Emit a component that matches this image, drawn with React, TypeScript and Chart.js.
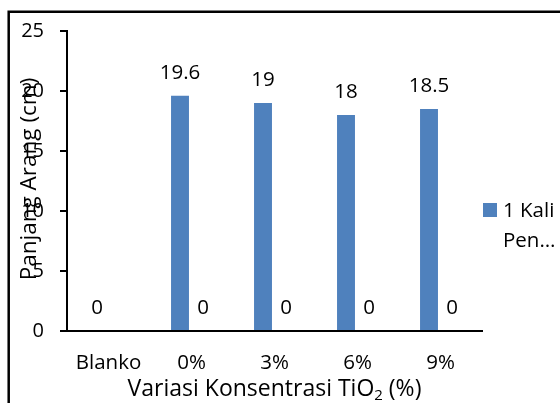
import { useEffect, useRef } from "react";
import { Chart, registerables } from "chart.js";

Chart.register(...registerables);

// Chart data
const categories = ["Blanko", "0%", "3%", "6%", "9%"];
const firstRun: (number | null)[] = [0, 19.6, 19, 18, 18.5];
const secondRun: (number | null)[] = [null, 0, 0, 0, 0];
const yMin = 0;
const yMax = 25;
const yStep = 5;
const legendLines = ["1 Kali", "Pen…"];
const yTitle = "Panjang Arang (cm)";
const xTitleMain = "Variasi Konsentrasi TiO";
const xTitleSub = "2";
const xTitleTail = " (%)";

const FONT_FAMILY = "'Open Sans', 'Noto Sans', sans-serif";
const FONT_SIZE = 20.5;
const Y_TICK_SIZE = 20;
const X_TITLE_SIZE = 23;
const Y_TITLE_SIZE = 22.5;
const BAR_BLUE = "#4F81BD";
const TEXT = "#000000";

// Outer frame (top and left edges visible)
const framePlugin = {
  id: "frame",
  beforeDraw(chart: Chart) {
    const { ctx, width, height } = chart;
    ctx.save();
    ctx.fillStyle = "#ffffff";
    ctx.fillRect(0, 0, width, height);
    ctx.strokeStyle = "#000000";
    ctx.lineWidth = 2.5;
    ctx.beginPath();
    ctx.moveTo(8.7, height + 5);
    ctx.lineTo(8.7, 11.7);
    ctx.lineTo(width + 5, 11.7);
    ctx.stroke();
    ctx.restore();
  },
};

// Value labels above each bar
const valueLabelPlugin = {
  id: "valueLabels",
  afterDatasetsDraw(chart: Chart) {
    const { ctx } = chart;
    ctx.save();
    ctx.font = `${FONT_SIZE}px ${FONT_FAMILY}`;
    ctx.fillStyle = TEXT;
    ctx.textAlign = "center";
    ctx.textBaseline = "alphabetic";
    chart.data.datasets.forEach((ds, di) => {
      const meta = chart.getDatasetMeta(di);
      ds.data.forEach((v, i) => {
        if (v === null || v === undefined) return;
        const el: any = meta.data[i];
        ctx.fillText(String(v), el.x, el.y - 17);
      });
    });
    ctx.restore();
  },
};

// Axis titles and legend
const annotationsPlugin = {
  id: "annotations",
  afterDraw(chart: Chart) {
    const { ctx, chartArea } = chart;
    const midY = (chartArea.top + chartArea.bottom) / 2;
    const midX = (chartArea.left + chartArea.right) / 2;
    ctx.save();
    ctx.fillStyle = TEXT;

    // y-axis title
    ctx.save();
    ctx.font = `${Y_TITLE_SIZE}px ${FONT_FAMILY}`;
    ctx.translate(chartArea.left - 31, midY - 2);
    ctx.rotate(-Math.PI / 2);
    ctx.textAlign = "center";
    ctx.textBaseline = "alphabetic";
    ctx.fillText(yTitle, 0, 0);
    ctx.restore();

    // x-axis title with subscript
    const subFont = `${Math.round(X_TITLE_SIZE * 0.65)}px ${FONT_FAMILY}`;
    const mainFont = `${X_TITLE_SIZE}px ${FONT_FAMILY}`;
    ctx.font = mainFont;
    const w1 = ctx.measureText(xTitleMain).width;
    const w3 = ctx.measureText(xTitleTail).width;
    ctx.font = subFont;
    const w2 = ctx.measureText(xTitleSub).width;
    const total = w1 + w2 + w3;
    const baseY = chartArea.bottom + 65;
    let x = midX - total / 2;
    ctx.textAlign = "left";
    ctx.textBaseline = "alphabetic";
    ctx.font = mainFont;
    ctx.fillText(xTitleMain, x, baseY);
    x += w1;
    ctx.font = subFont;
    ctx.fillText(xTitleSub, x, baseY + 4);
    x += w2;
    ctx.font = mainFont;
    ctx.fillText(xTitleTail, x, baseY);

    // legend
    const boxX = chartArea.right + 1;
    const boxY = chartArea.top + 172;
    ctx.fillStyle = BAR_BLUE;
    ctx.fillRect(boxX, boxY, 14, 14);
    ctx.fillStyle = TEXT;
    ctx.font = `${FONT_SIZE}px ${FONT_FAMILY}`;
    legendLines.forEach((line, i) => {
      ctx.fillText(line, boxX + 20, boxY + 14 + i * 30);
    });
    ctx.restore();
  },
};

export default function App() {
  const canvasRef = useRef<HTMLCanvasElement | null>(null);

  useEffect(() => {
    if (!canvasRef.current) return;
    const chart = new Chart(canvasRef.current, {
      type: "bar",
      data: {
        labels: categories,
        datasets: [
          {
            label: "1 Kali Pen…",
            data: firstRun,
            backgroundColor: BAR_BLUE,
            categoryPercentage: 0.554,
            barPercentage: 0.78,
          },
          {
            label: "",
            data: secondRun,
            backgroundColor: BAR_BLUE,
            categoryPercentage: 0.554,
            barPercentage: 0.78,
          },
        ],
      },
      options: {
        animation: false,
        responsive: true,
        maintainAspectRatio: false,
        layout: { padding: { top: 31, right: 78, bottom: 0, left: 0 } },
        plugins: {
          legend: { display: false },
          tooltip: { enabled: false },
          title: { display: false },
        },
        scales: {
          x: {
            grid: { display: false, drawTicks: false },
            border: { display: true, color: "#000000", width: 2 },
            ticks: {
              color: TEXT,
              font: { family: FONT_FAMILY, size: FONT_SIZE },
              padding: 20,
              maxRotation: 0,
            },
            afterFit(scale: any) {
              scale.height = 72;
            },
          },
          y: {
            min: yMin,
            max: yMax,
            grid: {
              display: true,
              drawOnChartArea: false,
              drawTicks: true,
              tickLength: 7,
              color: "#000000",
              lineWidth: 2,
            },
            border: { display: true, color: "#000000", width: 2 },
            ticks: {
              stepSize: yStep,
              color: TEXT,
              font: { family: FONT_FAMILY, size: Y_TICK_SIZE },
              padding: 16,
            },
            afterFit(scale: any) {
              scale.width = 67;
            },
          },
        },
      },
      plugins: [framePlugin, valueLabelPlugin, annotationsPlugin],
    });
    return () => chart.destroy();
  }, []);

  return (
    <div style={{ position: "absolute", left: 0, top: 0, width: 560, height: 403 }}>
      <canvas ref={canvasRef} />
    </div>
  );
}
